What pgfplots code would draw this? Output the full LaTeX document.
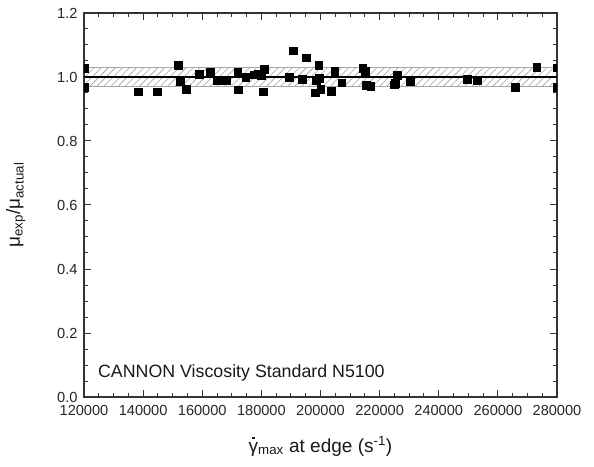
\documentclass[border=0pt]{standalone}
\usepackage{fontspec}
\setmainfont{Liberation Sans}
\usepackage{pgfplots}
\pgfplotsset{compat=1.18}
\usetikzlibrary{patterns.meta}
\begin{document}
\begin{tikzpicture}
\begin{axis}[name=ax, scale only axis, width=473pt, height=384pt,
 xmin=120000, xmax=280000, ymin=0, ymax=1.2,
 xtick={120000,140000,160000,180000,200000,220000,240000,260000,280000},
 ytick={0,0.2,0.4,0.6,0.8,1.0,1.2},
 minor x tick num=3, minor y tick num=3,
 tick align=inside, major tick length=7pt, minor tick length=4pt,
 axis line style={line width=1.2pt, black!80},
 every tick/.style={line width=1pt, black!80},
 scaled x ticks=false, scaled y ticks=false,
 xticklabel style={/pgf/number format/fixed, /pgf/number format/1000 sep={}, /pgf/number format/assume math mode=true,
   font=\fontsize{14.6}{16}\selectfont, text=black!85, yshift=-5pt},
 yticklabel style={/pgf/number format/fixed, /pgf/number format/fixed zerofill, /pgf/number format/precision=1, /pgf/number format/assume math mode=true,
   font=\fontsize{14.6}{16}\selectfont, text=black!85, xshift=-3pt},
 clip marker paths=true,
 xlabel={\ooalign{γ\cr\hidewidth\raisebox{0.66em}{\rule{2.2pt}{2.2pt}}\hidewidth\cr}\textsubscript{max} at edge (s\textsuperscript{-1})},
 xlabel style={font=\fontsize{19}{22}\selectfont, text=black!90, at={(rel axis cs:0.5,0)}, anchor=base, yshift=-55pt},
 ylabel={μ\textsubscript{exp}/μ\textsubscript{actual}},
 ylabel style={font=\fontsize{19}{22}\selectfont, text=black!90, at={(rel axis cs:0,0.5)}, anchor=base, rotate=0, yshift=64pt},
]
\addplot[draw=none, pattern={Lines[angle=45,distance=5pt,line width=0.6pt]}, pattern color=gray!75, forget plot]
  coordinates {(120000,0.97) (278500,0.97) (278500,1.03) (120000,1.03)} -- cycle;
\addplot[gray!70, line width=1.3pt, forget plot] coordinates {(120000,0.97) (278500,0.97)};
\addplot[gray!70, line width=1.3pt, forget plot] coordinates {(120000,1.03) (278500,1.03)};
\addplot[black, line width=1.1pt, forget plot] coordinates {(120000,1.0) (280000,1.0)};
\addplot[only marks, mark=square*, mark size=3.9pt, black] coordinates {
(120000,1.027) (120000,0.967) (138400,0.954) (144800,0.954) (151800,1.038)
(152500,0.985) (154500,0.961) (159100,1.009) (162600,1.014) (165000,0.991)
(168000,0.989) (172000,1.015) (172200,0.960) (174700,1.000) (177500,1.007)
(178800,1.010) (180000,1.005) (181000,1.024) (180600,0.954) (189400,1.000)
(190900,1.082) (193900,0.993) (195100,1.060) (198300,0.951) (198500,0.990)
(199600,0.996) (199400,1.038) (200100,0.961) (203600,0.955) (204800,1.017)
(207200,0.982) (214300,1.028) (215100,1.018) (215400,0.975) (217000,0.970)
(224800,0.976) (225300,0.981) (226000,1.006) (230400,0.986) (249500,0.994)
(253000,0.991) (265800,0.968) (273100,1.031) (280000,1.029) (280000,0.968)
};
\node[anchor=base west, inner sep=0, font=\fontsize{17.8}{20}\selectfont, text=black!90] at (axis cs:124700,0.0625) {CANNON Viscosity Standard N5100};
\coordinate (bl) at (rel axis cs:0,0);
\coordinate (tr) at (rel axis cs:1,1);
\end{axis}
\pgfresetboundingbox
\path[use as bounding box] ([xshift=-84pt,yshift=-69pt]bl) rectangle ([xshift=37pt,yshift=13pt]tr);
\end{tikzpicture}
\end{document}
